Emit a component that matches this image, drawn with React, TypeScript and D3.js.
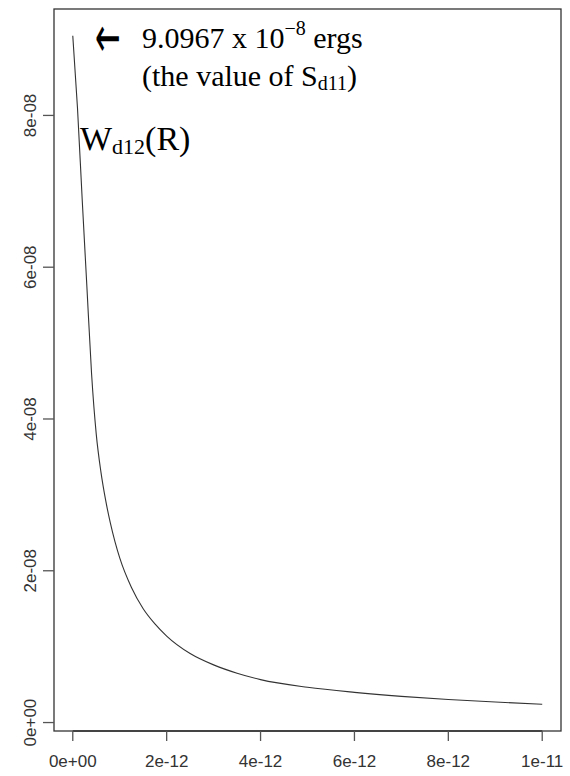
import React, { useEffect, useRef } from "react";
import * as d3 from "d3";

// R (cm) and W_d12(R) (ergs)
const radius = [
  0, 0.1e-12, 0.2e-12, 0.3e-12, 0.4e-12, 0.5e-12, 0.6e-12, 0.7e-12, 0.8e-12, 0.9e-12,
  1.0e-12, 1.25e-12, 1.5e-12, 1.75e-12, 2.0e-12, 2.5e-12, 3.0e-12, 3.5e-12, 4.0e-12,
  5.0e-12, 6.0e-12, 7.0e-12, 8.0e-12, 9.0e-12, 1.0e-11,
];
const energy = [
  9.05e-8, 8.1e-8, 6.9e-8, 5.75e-8, 4.6e-8, 3.8e-8, 3.3e-8, 2.93e-8, 2.63e-8, 2.38e-8,
  2.17e-8, 1.78e-8, 1.5e-8, 1.3e-8, 1.14e-8, 0.91e-8, 0.76e-8, 0.65e-8, 0.566e-8,
  0.465e-8, 0.398e-8, 0.345e-8, 0.303e-8, 0.27e-8, 0.241e-8,
];

const xTicks = [0, 2e-12, 4e-12, 6e-12, 8e-12, 1e-11];
const xTickLabels = ["0e+00", "2e-12", "4e-12", "6e-12", "8e-12", "1e-11"];
const yTicks = [0, 2e-8, 4e-8, 6e-8, 8e-8];
const yTickLabels = ["0e+00", "2e-08", "4e-08", "6e-08", "8e-08"];

const App = () => {
  const svgRef = useRef<SVGSVGElement>(null);

  useEffect(() => {
    const width = 570;
    const height = 776;
    const margin = { top: 9, right: 9, bottom: 45, left: 54 };

    const svg = d3.select(svgRef.current);
    svg.selectAll("*").remove();

    // R style 4% padding of the data range
    const pad = (lo: number, hi: number): [number, number] => {
      const d = (hi - lo) * 0.04;
      return [lo - d, hi + d];
    };
    const xExt = d3.extent(radius) as [number, number];
    const yExt = d3.extent(energy) as [number, number];

    const x = d3
      .scaleLinear()
      .domain(pad(xExt[0], xExt[1]))
      .range([margin.left, width - margin.right]);
    const y = d3
      .scaleLinear()
      .domain(pad(yExt[0], yExt[1]))
      .range([height - margin.bottom, margin.top]);

    const pts = radius.map((r, i) => [r, energy[i]] as [number, number]);

    const line = d3
      .line<[number, number]>()
      .x((d) => x(d[0]))
      .y((d) => y(d[1]))
      .curve(d3.curveMonotoneX);

    svg
      .append("path")
      .attr("d", line(pts))
      .attr("fill", "none")
      .attr("stroke", "#333")
      .attr("stroke-width", 1.1);

    // frame
    svg
      .append("rect")
      .attr("x", margin.left)
      .attr("y", margin.top)
      .attr("width", width - margin.left - margin.right)
      .attr("height", height - margin.top - margin.bottom)
      .attr("fill", "none")
      .attr("stroke", "#333")
      .attr("stroke-width", 1.3);

    const bottom = height - margin.bottom;
    const sans = "Liberation Sans, Arial, sans-serif";

    const xg = svg.append("g");
    xg.append("line")
      .attr("x1", x(xTicks[0]))
      .attr("x2", x(xTicks[xTicks.length - 1]))
      .attr("y1", bottom)
      .attr("y2", bottom)
      .attr("stroke", "#333")
      .attr("stroke-width", 1.3);
    xTicks.forEach((t, i) => {
      xg.append("line")
        .attr("x1", x(t))
        .attr("x2", x(t))
        .attr("y1", bottom)
        .attr("y2", bottom + 10)
        .attr("stroke", "#555")
        .attr("stroke-width", 1.3);
      xg.append("text")
        .attr("x", x(t))
        .attr("y", bottom + 36)
        .attr("text-anchor", "middle")
        .attr("font-family", sans)
        .attr("font-size", 17)
        .attr("fill", "#333")
        .text(xTickLabels[i]);
    });

    const yg = svg.append("g");
    yTicks.forEach((t, i) => {
      yg.append("line")
        .attr("x1", margin.left - 11)
        .attr("x2", margin.left)
        .attr("y1", y(t))
        .attr("y2", y(t))
        .attr("stroke", "#555")
        .attr("stroke-width", 1.3);
      yg.append("text")
        .attr("transform", `translate(${margin.left - 18},${y(t)}) rotate(-90)`)
        .attr("text-anchor", "middle")
        .attr("font-family", sans)
        .attr("font-size", 17)
        .attr("fill", "#333")
        .text(yTickLabels[i]);
    });

    // annotations
    const serif = "Liberation Serif, Times New Roman, serif";
    svg
      .append("text")
      .attr("transform", "translate(95,37) scale(0.85,1.6)")
      .attr("dominant-baseline", "central")
      .attr("font-family", "DejaVu Sans, sans-serif")
      .attr("font-size", 36)
      .attr("fill", "#000")
      .text("←");

    const t1 = svg
      .append("text")
      .attr("x", 142)
      .attr("y", 48)
      .attr("font-family", serif)
      .attr("font-size", 30)
      .attr("fill", "#000");
    t1.append("tspan").text("9.0967 x 10");
    t1.append("tspan").attr("font-size", 20).attr("dy", -13).text("−8");
    t1.append("tspan").attr("dy", 13).text(" ergs");

    const t2 = svg
      .append("text")
      .attr("x", 142)
      .attr("y", 86)
      .attr("font-family", serif)
      .attr("font-size", 30)
      .attr("fill", "#000");
    t2.append("tspan").text("(the value of S");
    t2.append("tspan").attr("font-size", 20).attr("dy", 4).text("d11");
    t2.append("tspan").attr("dy", -4).text(")");

    const t3 = svg
      .append("text")
      .attr("x", 80)
      .attr("y", 150)
      .attr("font-family", serif)
      .attr("font-size", 34)
      .attr("fill", "#000");
    t3.append("tspan").text("W");
    t3.append("tspan").attr("font-size", 22).attr("dy", 4).text("d12");
    t3.append("tspan").attr("dy", -4).text("(R)");
  }, []);

  return (
    <svg
      ref={svgRef}
      width={570}
      height={776}
      style={{ position: "absolute", left: 0, top: 0, background: "#fff" }}
    />
  );
};

export default App;
